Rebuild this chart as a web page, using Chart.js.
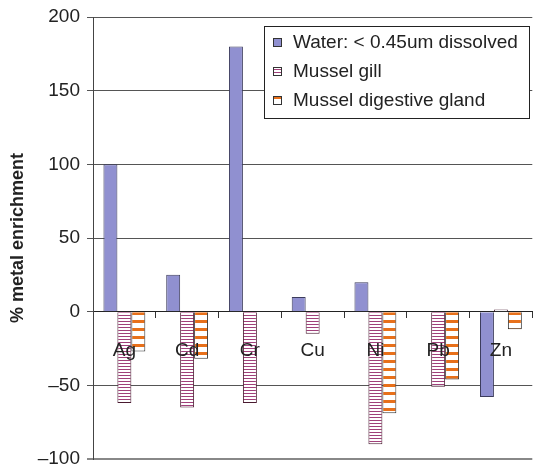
<!DOCTYPE html>
<html>
<head>
<meta charset="utf-8">
<script src="https://cdn.jsdelivr.net/npm/chart.js@4"></script>
<style>
  html, body { margin: 0; padding: 0; background: #fff; }
  #wrap { width: 534px; height: 465px; }
</style>
</head>
<body>
<div id="wrap"><canvas id="myChart"></canvas></div>
<script>
const metals = ['Ag', 'Cd', 'Cr', 'Cu', 'Ni', 'Pb', 'Zn'];
const water = [100, 25, 180, 10, 20, null, -58];
const gill = [-62, -65, -62, -15, -90, -51, 1.5];
const gland = [-27, -32, null, null, -69, -46, -12];
const yTicks = [-100, -50, 0, 50, 100, 150, 200];

// striped fills
function stripes(period, band, color) {
    const c = document.createElement('canvas');
    c.width = 4; c.height = period;
    const g = c.getContext('2d');
    g.fillStyle = '#fff';
    g.fillRect(0, 0, 4, period);
    g.fillStyle = color;
    g.fillRect(0, 0, 4, band);
    return g.createPattern(c, 'repeat');
}
const gillFill = stripes(3, 1, '#a0407a');
const glandFill = stripes(8, 3, '#e8701a');

const legendBox = {
    id: 'legendBox',
    afterDraw(chart) {
        const g = chart.ctx;
        g.save();
        g.fillStyle = '#fff';
        g.fillRect(264, 26, 265, 92);
        g.strokeStyle = '#222';
        g.lineWidth = 1;
        g.strokeRect(264.5, 26.5, 265, 92);
        g.font = '19px Arial';
        g.textBaseline = 'middle';
        chart.data.datasets.forEach((ds, i) => {
            const y = 42 + i * 29;
            g.fillStyle = ds.backgroundColor;
            g.fillRect(273, y - 4, 9, 9);
            g.strokeStyle = '#333';
            g.strokeRect(273.5, y - 3.5, 8, 8);
            g.fillStyle = '#222';
            g.fillText(ds.label, 293, y + 1);
        });
        g.restore();
    }
};

const ctx = document.getElementById('myChart');
let myChart = new Chart(ctx, {
    type: 'bar',
    data: {
        labels: metals,
        datasets: [
            {
                label: 'Water: < 0.45um dissolved',
                data: water,
                backgroundColor: '#9090d0',
                borderColor: '#3c3c5c',
                borderWidth: 1,
            },
            {
                label: 'Mussel gill',
                data: gill,
                backgroundColor: gillFill,
                borderColor: '#4a1a30',
                borderWidth: 1,
            },
            {
                label: 'Mussel digestive gland',
                data: gland,
                backgroundColor: glandFill,
                borderColor: '#333',
                borderWidth: 1,
            }
        ]
    },
    options: {
        responsive: true,
        maintainAspectRatio: false,
        animation: false,
        devicePixelRatio: 1,
        categoryPercentage: 0.667,
        barPercentage: 1,
        layout: { padding: { top: 17, bottom: 6, left: 0, right: 0 } },
        plugins: {
            legend: { display: false },
            tooltip: { enabled: false }
        },
        scales: {
            x: {
                position: { y: 0 },
                grid: { drawOnChartArea: false, drawTicks: true, tickLength: 6, color: '#333', offset: true },
                border: { color: '#222', width: 1 },
                ticks: { z: 1, font: { family: 'Arial', size: 19 }, color: '#222', padding: 22, maxRotation: 0, autoSkip: false }
            },
            y: {
                min: -100,
                max: 200,
                afterBuildTicks: s => { s.ticks = yTicks.map(v => ({ value: v })); },
                afterFit: s => { s.width = 93; s.paddingTop = 0; s.paddingBottom = 0; },
                ticks: {
                    font: { family: 'Arial', size: 19 },
                    color: '#222',
                    padding: 7,
                    callback: v => String(v).replace('-', '\u2013')
                },
                grid: {
                    color: c => c.tick && c.tick.value === -100 ? '#888' : '#555',
                    lineWidth: c => c.tick && c.tick.value === -100 ? 2 : 1,
                    tickLength: 6
                },
                border: { color: '#444' },
                title: {
                    display: true,
                    text: '% metal enrichment',
                    font: { family: 'Arial', size: 18, weight: 'bold' },
                    color: '#222',
                    padding: { top: 7, bottom: 0 }
                }
            }
        }
    },
    plugins: [legendBox]
});
</script>
</body>
</html>
